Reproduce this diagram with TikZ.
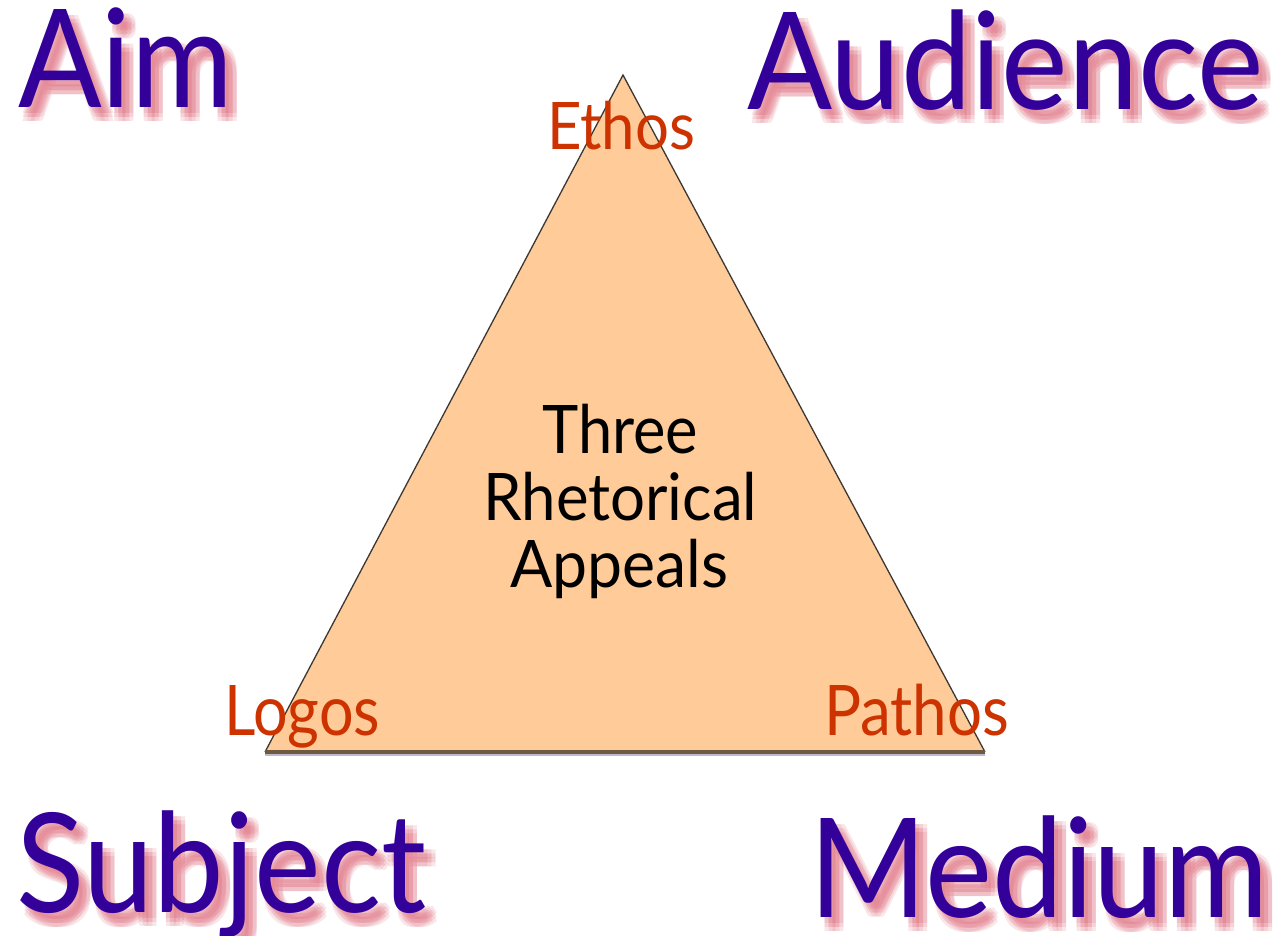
\documentclass[tikz,border=0pt]{standalone}
\usepackage{fontspec}
\setmainfont{Lato}
\usepackage{graphicx}
\definecolor{wordpurple}{RGB}{51,0,153}
\definecolor{shadowpink}{RGB}{226,120,135}
\definecolor{appealred}{RGB}{204,51,0}
\definecolor{peach}{RGB}{255,204,153}
\definecolor{edgegray}{RGB}{60,55,50}
\definecolor{baseedge}{RGB}{110,90,65}
\definecolor{baseshadow}{RGB}{190,185,205}
\newcommand{\fitword}[3]{\resizebox{#1pt}{#2pt}{\smash{#3}\vphantom{H}}}
\newcommand{\shadowword}[6]{%
  \foreach \dx in {4,8,12}{\foreach \dy in {6,10,14}{%
    \node[bigshadow] (#1-sh-\dx-\dy) at (#2+\dx,#3+\dy) {\fitword{#4}{#5}{#6}};}}%
  \node[bigword] (#1) at (#2,#3) {\fitword{#4}{#5}{#6}};}
\begin{document}
\begin{tikzpicture}[x=1pt,y=-1pt,
  bigword/.style={anchor=base west, inner sep=0pt, text=wordpurple},
  bigshadow/.style={anchor=base west, inner sep=0pt, text=shadowpink, text opacity=0.18},
  appeal/.style={anchor=base west, inner sep=0pt, text=appealred},
  centertext/.style={anchor=base west, inner sep=0pt, text=black},
  edge/.style={draw=edgegray, line width=1.3pt},
  baseline edge/.style={draw=baseedge, line width=3.5pt}]
\useasboundingbox (0,0) rectangle (1287,936);
\fill[white] (0,0) rectangle (1287,936);
% triangle
\coordinate (apex) at (623,75);
\coordinate (bl) at (265,752);
\coordinate (br) at (985,752);
\fill[peach] (apex) -- (bl) -- (br) -- cycle;
\draw[baseshadow, line width=2pt] ([yshift=-3pt]bl) -- ([yshift=-3pt]br);
\draw[edge] (bl) -- (apex) -- (br);
\draw[baseline edge] (bl) -- (br);
% big words
\shadowword{aim}{18}{108}{215}{98}{Aim}
\shadowword{audience}{747}{110}{516}{97}{Audience}
\shadowword{subject}{16}{912}{410}{99}{Subject}
\shadowword{medium}{809}{917}{459}{99}{Medium}
% appeals
\node[appeal] (ethos) at (547,150) {\fitword{148}{47}{Ethos}};
\node[appeal] (logos) at (224,735) {\fitword{156}{50}{Logos}};
\node[appeal] (pathos) at (824,735) {\fitword{185}{50}{Pathos}};
% centre text
\node[centertext] (three) at (542,453) {\fitword{156}{48}{Three}};
\node[centertext] (rhet) at (483,520) {\fitword{274}{47}{Rhetorical}};
\node[centertext] (appeals) at (510,587) {\fitword{218}{47}{Appeals}};
\end{tikzpicture}
\end{document}
